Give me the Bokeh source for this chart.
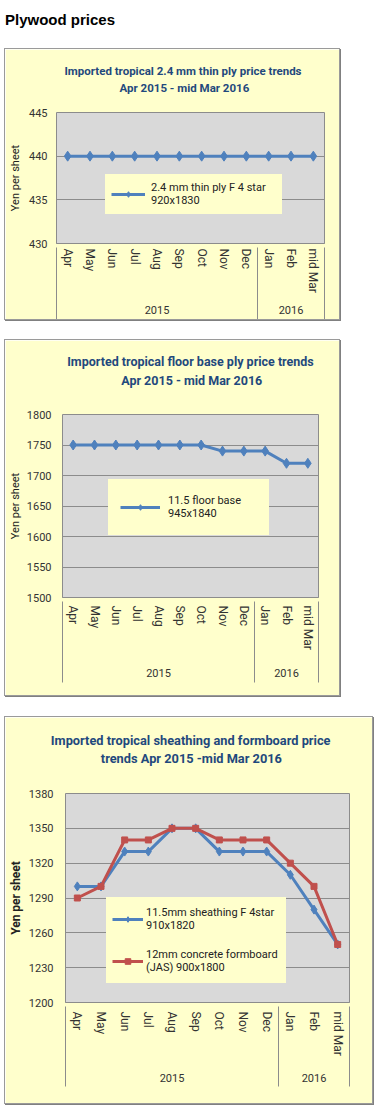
from bokeh.plotting import figure
from bokeh.models import Range1d, LinearAxis, FixedTicker, Legend, LegendItem, Title, Div, Spacer
from bokeh.layouts import column
from bokeh.embed import file_html
from bokeh.resources import INLINE

# ---------------- data ----------------
months = ["Apr", "May", "Jun", "Jul", "Aug", "Sep", "Oct", "Nov", "Dec", "Jan", "Feb", "mid Mar"]
years = ["2015", "2015", "2015", "2015", "2015", "2015", "2015", "2015", "2015", "2016", "2016", "2016"]

thin_ply_ticks = [430, 435, 440, 445]
thin_ply = [440, 440, 440, 440, 440, 440, 440, 440, 440, 440, 440, 440]

floor_base_ticks = [1500, 1550, 1600, 1650, 1700, 1750, 1800]
floor_base = [1750, 1750, 1750, 1750, 1750, 1750, 1750, 1740, 1740, 1740, 1720, 1720]

sheathing_ticks = [1200, 1230, 1260, 1290, 1320, 1350, 1380]
sheathing = [1300, 1300, 1330, 1330, 1350, 1350, 1330, 1330, 1330, 1310, 1280, 1250]
formboard = [1290, 1300, 1340, 1340, 1350, 1350, 1340, 1340, 1340, 1320, 1300, 1250]

heading = "Plywood prices"
title1 = "Imported tropical 2.4 mm thin ply price trends\nApr 2015 - mid Mar 2016"
title2 = "Imported tropical floor base ply price trends\nApr 2015 - mid Mar 2016"
title3 = "Imported tropical sheathing and formboard price\ntrends Apr 2015 -mid Mar 2016"
label1 = "2.4 mm thin ply F 4 star\n920x1830"
label2 = "11.5 floor base\n945x1840"
label3a = "11.5mm sheathing F 4star\n910x1820"
label3b = "12mm concrete formboard\n(JAS) 900x1800"
y_label = "Yen per sheet"

# ---------------- style ----------------
FONT = "Roboto"
TITLE_COLOR = "#1F497D"
TEXT_COLOR = "#333333"
GRID = "#8C8C8C"
PLOT_BG = "#D9D9D9"
PANEL_BG = "#FFFFCC"
BLUE = "#4F81BD"
RED = "#C0504D"


def year_groups(yrs):
    groups = []
    start = 0
    for i in range(1, len(yrs) + 1):
        if i == len(yrs) or yrs[i] != yrs[start]:
            groups.append((yrs[start], start, i - 1))
            start = i
    return groups


def key(v):
    return int(v) if float(v).is_integer() else float(v)


def make_chart(c, yticks, series, title):
    n = len(months)
    xs = list(range(n))
    p = figure(width=c["w"], height=c["h"],
               x_range=Range1d(-0.5, n - 0.5),
               y_range=Range1d(yticks[0], yticks[-1]),
               x_axis_type=None, output_backend="svg", toolbar_location=None,
               min_border_left=c["l"], min_border_right=c["r"],
               min_border_top=c["t"], min_border_bottom=c["b"],
               background_fill_color=PLOT_BG, border_fill_color=PANEL_BG,
               outline_line_color=GRID, margin=0, frame_align=False,
               styles={"box-shadow": "0 0 0 1px #9a9a9a, 1px 1px 0 1px #808080"})
    p.title.visible = False

    # y axis
    yax = p.yaxis[0]
    yax.ticker = FixedTicker(ticks=yticks)
    yax.axis_line_color = None
    yax.major_tick_line_color = None
    yax.minor_tick_line_color = None
    yax.major_tick_out = 0
    yax.minor_tick_out = 0
    yax.major_tick_in = 0
    yax.minor_tick_in = 0
    yax.major_label_standoff = c["ystand"]
    yax.major_label_text_font = FONT
    yax.major_label_text_font_size = "11px"
    yax.major_label_text_color = TEXT_COLOR
    yax.axis_label = y_label
    yax.axis_label_standoff = c["lstand"]
    yax.axis_label_text_font = FONT
    yax.axis_label_text_font_size = c["lsize"]
    yax.axis_label_text_font_style = c["lstyle"]
    yax.axis_label_text_color = "#222222"
    p.ygrid[0].ticker = FixedTicker(ticks=yticks)
    p.ygrid[0].grid_line_color = GRID

    # category axes (months, then years), then group separators
    groups = year_groups(years)
    bounds = [-0.5] + [g[2] + 0.5 for g in groups]
    centers = [(g[1] + g[2]) / 2 for g in groups]
    month_axis = LinearAxis(
        ticker=FixedTicker(ticks=xs, minor_ticks=[]),
        major_label_overrides={i: m for i, m in enumerate(months)},
        major_label_orientation="vertical",
        major_tick_in=0, major_tick_out=0, minor_tick_in=0, minor_tick_out=0,
        major_tick_line_color=None, minor_tick_line_color=None,
        axis_line_color=GRID,
        major_label_standoff=c["mstand"],
        major_label_text_font=FONT, major_label_text_font_size="12px",
        major_label_text_color=TEXT_COLOR)
    year_axis = LinearAxis(
        ticker=FixedTicker(ticks=centers, minor_ticks=[]),
        major_label_overrides={key(cx): g[0] for cx, g in zip(centers, groups)},
        axis_line_color=None, major_tick_line_color=None, minor_tick_line_color=None,
        major_tick_in=0, major_tick_out=0, minor_tick_in=0, minor_tick_out=0,
        major_label_standoff=c["ystand2"],
        major_label_text_font=FONT, major_label_text_font_size="11px",
        major_label_text_color=TEXT_COLOR)
    sep_axis = LinearAxis(
        ticker=FixedTicker(ticks=bounds, minor_ticks=[]),
        major_label_overrides={key(b): "" for b in bounds},
        major_label_text_font_size="0px", major_label_standoff=0,
        axis_line_color=None, minor_tick_line_color=None, minor_tick_in=0, minor_tick_out=0,
        major_tick_line_color=GRID, major_tick_in=c["sep_in"], major_tick_out=c["sep_out"])
    p.add_layout(month_axis, "below")
    p.add_layout(year_axis, "below")
    p.add_layout(sep_axis, "below")

    # series
    items = []
    for vals, lab, color, marker, msize in series:
        ln = p.line(xs, vals, line_width=3, color=color)
        sc = p.scatter(xs, vals, marker=marker, size=msize, color=color)
        items.append(LegendItem(label=lab, renderers=[ln, sc]))
    leg = Legend(items=items, location=c["leg_loc"], margin=0,
                 padding=c["pad"], spacing=c["spacing"],
                 background_fill_color=PANEL_BG, background_fill_alpha=1.0,
                 border_line_color=PANEL_BG,
                 glyph_width=c["gw"], glyph_height=14,
                 label_standoff=c["gs"], label_width=c["lw"],
                 label_height=c["lh"],
                 label_text_font=FONT, label_text_font_size="11px",
                 label_text_line_height=c["lline"],
                 label_text_color="#222222")
    p.add_layout(leg)

    # chart title: two lines above the frame (first added = nearest the frame)
    line_a, line_b = title.split("\n")
    tkw = dict(text_font=FONT, text_font_style="bold", text_font_size=c["tsize"],
               text_color=TITLE_COLOR, align="left", vertical_align="middle")
    p.add_layout(Title(text=" ", standoff=c["gap"], **tkw), "above")
    p.add_layout(Title(text=line_b, offset=c["o2"], standoff=c["tstand"], **tkw), "above")
    p.add_layout(Title(text=line_a, offset=c["o1"], standoff=c["tstand"], **tkw), "above")
    return p


cfg1 = dict(w=334, h=270, l=50, r=15, t=63, b=75, ystand=9, lstand=4, lsize="11px", lstyle="normal",
            mstand=5, ystand2=10, sep_in=69, sep_out=3,
            leg_loc=(49, 29), pad=5, spacing=0, gw=34, gs=6, lw=125, lh=28, lline=1.3,
            tsize="11.5px", tstand=0.5, gap=0, o1=8, o2=63)
cfg2 = dict(w=334, h=355, l=53, r=21, t=74, b=98, ystand=11, lstand=2, lsize="11px", lstyle="normal",
            mstand=8, ystand2=16, sep_in=78, sep_out=3,
            leg_loc=(46, 62), pad=11, spacing=0, gw=40, gs=8, lw=89, lh=32, lline=1.45,
            tsize="12.5px", tstand=2.4, gap=8, o1=4.7, o2=58.7)
cfg3 = dict(w=367, h=386, l=59, r=23, t=76, b=101, ystand=12, lstand=3, lsize="12px", lstyle="bold",
            mstand=9, ystand2=15, sep_in=78, sep_out=2,
            leg_loc=(41, 19), pad=5, spacing=10, gw=31, gs=3, lw=134, lh=32, lline=1.45,
            tsize="12.8px", tstand=1, gap=9, o1=-14.7, o2=35.3)

p1 = make_chart(cfg1, thin_ply_ticks, [(thin_ply, label1, BLUE, "diamond", 10)], title1)
p2 = make_chart(cfg2, floor_base_ticks, [(floor_base, label2, BLUE, "diamond", 10)], title2)
p3 = make_chart(cfg3, sheathing_ticks,
                [(sheathing, label3a, BLUE, "diamond", 9),
                 (formboard, label3b, RED, "square", 6)], title3)

head = Div(text=heading, width=334, height=49, margin=0,
           styles={"font-family": "Liberation Sans, Arial, sans-serif", "font-weight": "bold",
                   "font-size": "15px", "line-height": "40px", "color": "#000000"})

layout = column(head, p1, Spacer(height=21, margin=0), p2, Spacer(height=22, margin=0), p3,
                spacing=0, margin=(0, 0, 0, 5))

open("out.html", "w").write(file_html(layout, INLINE))
